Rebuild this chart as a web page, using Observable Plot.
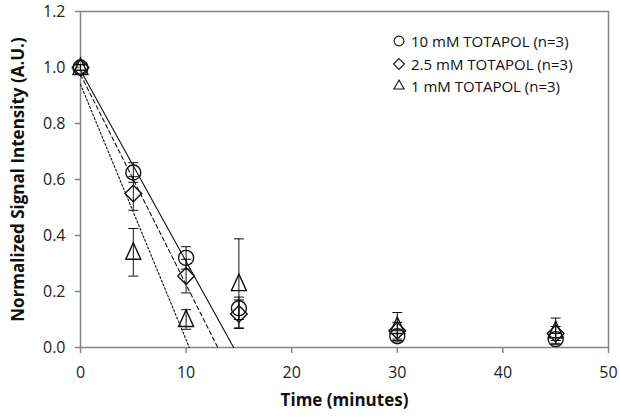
<!DOCTYPE html>
<html>
<head>
<meta charset="utf-8">
<script src="https://cdn.jsdelivr.net/npm/d3@7"></script>
<script src="https://cdn.jsdelivr.net/npm/@observablehq/plot@0.6"></script>
<style>
  html, body { margin: 0; padding: 0; background: #fff; }
  #wrap { position: relative; width: 620px; height: 419px; }
  #legend { position: absolute; left: 392px; top: 30px; font-family: "Open Sans", sans-serif; font-size: 15px; color: #111; }
  #legend .row { display: flex; align-items: center; height: 22.5px; }
  #legend svg { margin-right: 5px; }
</style>
</head>
<body>
<div id="wrap"><div id="chart"></div><div id="legend"></div></div>
<script>
// ---- data ----
const times = [0, 5, 10, 15, 30, 45];
const seriesNames = ["10 mM TOTAPOL (n=3)", "2.5 mM TOTAPOL (n=3)", "1 mM TOTAPOL (n=3)"];
const seriesSymbols = ["circle", "diamond2", "triangle2"];
const mean10 = [1.00, 0.625, 0.32, 0.14, 0.04, 0.03];
const err10  = [0.01, 0.035, 0.04, 0.04, 0.02, 0.02];
const mean25 = [1.00, 0.55, 0.255, 0.12, 0.06, 0.05];
const err25  = [0.01, 0.06, 0.06, 0.05, 0.03, 0.025];
const mean1  = [1.00, 0.34, 0.10, 0.228, 0.075, 0.06];
const err1   = [0.01, 0.085, 0.035, 0.16, 0.05, 0.045];
// linear trend lines (start value at t=0, x-intercept)
const fitStartT = [0, 0, 0];
const fitStartV = [0.99, 0.975, 0.94];
const fitEndT = [14.5, 13.0, 10.3];
const fitEndV = [0, 0, 0];
const fitDash = ["none", "4,3", "2,2"];
const xTicks = [0, 10, 20, 30, 40, 50];
const yTicks = [0, 0.2, 0.4, 0.6, 0.8, 1.0, 1.2];
const xTitle = "Time (minutes)";
const yTitle = "Normalized Signal Intensity (A.U.)";

// ---- build tables ----
const means = [mean10, mean25, mean1];
const errs = [err10, err25, err1];
const pts = [];
means.forEach((m, s) => times.forEach((t, i) => pts.push({s, t, v: m[i], lo: m[i] - errs[s][i], hi: m[i] + errs[s][i]})));
const fits = [];
seriesNames.forEach((n, s) => {
  fits.push({s, t: fitStartT[s], v: fitStartV[s]});
  fits.push({s, t: fitEndT[s], v: fitEndV[s]});
});
const cap = { draw(ctx, size) { ctx.moveTo(-5, 0); ctx.lineTo(5, 0); } };
const tri = { draw(ctx, size) { ctx.moveTo(0, -9.5); ctx.lineTo(7.5, 7); ctx.lineTo(-7.5, 7); ctx.closePath(); } };
const symbolFor = {circle: "circle", diamond2: "diamond2", triangle2: tri};
const axisGray = "#858585";

const marks = [
  Plot.frame({stroke: axisGray, strokeWidth: 1.5}),
  Plot.axisY({ticks: yTicks, tickSize: 5, tickPadding: 10, tickFormat: d3.format(".1f"), stroke: axisGray, strokeWidth: 1.5, label: null, fontSize: 16}),
  Plot.axisX({ticks: xTicks, tickSize: 6, tickPadding: 13, stroke: axisGray, strokeWidth: 1.5, label: null, fontSize: 16}),
];
[0, 1, 2].forEach(s => {
  marks.push(Plot.line(fits.filter(d => d.s === s), {x: "t", y: "v", stroke: "#111", strokeWidth: 1.1, strokeDasharray: fitDash[s]}));
});
marks.push(
  Plot.ruleX(pts, {x: "t", y1: "lo", y2: "hi", stroke: "#111", strokeWidth: 1}),
  Plot.dot(pts, {x: "t", y: "lo", symbol: cap, r: 5, stroke: "#111", strokeWidth: 1}),
  Plot.dot(pts, {x: "t", y: "hi", symbol: cap, r: 5, stroke: "#111", strokeWidth: 1})
);
[0, 1, 2].forEach(s => {
  marks.push(Plot.dot(pts.filter(d => d.s === s), {x: "t", y: "v", symbol: symbolFor[seriesSymbols[s]], r: 7.5, fill: "none", stroke: "#111", strokeWidth: 1.4}));
});
marks.push(
  Plot.text([xTitle], {text: d => d, frameAnchor: "bottom", dy: 58, fontWeight: "bold", fontSize: 17, fill: "#111"}),
  Plot.text([yTitle], {text: d => d, frameAnchor: "left", textAnchor: "middle", rotate: -90, dx: -62, fontWeight: "bold", fontSize: 17, fill: "#111"})
);

const chart = Plot.plot({
  width: 620, height: 419,
  marginLeft: 80, marginRight: 12, marginTop: 11, marginBottom: 72,
  x: {domain: [0, 50]},
  y: {domain: [0, 1.2]},
  style: {fontFamily: "Open Sans, sans-serif", fontSize: "16px", color: "#222", background: "#fff"},
  marks
});
document.getElementById("chart").append(chart);

// ---- legend ----
const legend = document.getElementById("legend");
const sym = {circle: d3.symbolCircle, diamond2: d3.symbolDiamond2, triangle2: d3.symbolTriangle2};
seriesNames.forEach((name, s) => {
  const row = document.createElement("div");
  row.className = "row";
  const path = d3.symbol(sym[seriesSymbols[s]], 75)();
  row.innerHTML = `<svg width="14" height="14" viewBox="-7 -7 14 14"><path d="${path}" fill="none" stroke="#111" stroke-width="1.1"/></svg><span>${name}</span>`;
  legend.append(row);
});
</script>
</body>
</html>
